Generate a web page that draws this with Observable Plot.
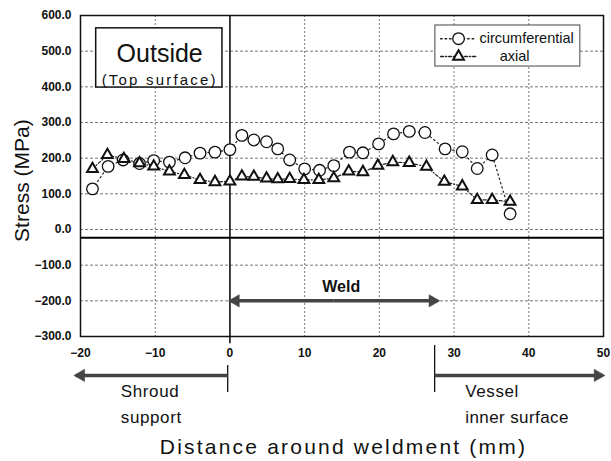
<!DOCTYPE html>
<html>
<head>
<meta charset="utf-8">
<script src="https://cdn.jsdelivr.net/npm/d3@7"></script>
<script src="https://cdn.jsdelivr.net/npm/@observablehq/plot@0.6"></script>
<style>
  html, body { margin: 0; padding: 0; background: #fff; }
  #chart svg { display: block; }
</style>
</head>
<body>
<div id="chart"></div>
<script>
// Distance around weldment (mm) for each measurement point
const xCirc = [-18.4,-16.3,-14.3,-12.1,-10.2,-8.1,-6.0,-4.0,-2.0,0.0,1.6,3.2,4.9,6.4,8.0,10.0,12.0,13.9,16.0,17.8,19.9,21.9,24.0,26.1,28.8,31.1,33.1,35.1,37.5];
const circumferential = [114,177,195,185,193,189,201,214,217,224,264,251,246,226,195,170,166,179,217,215,240,268,275,272,226,218,171,209,44];
const xAxial = [-18.4,-16.4,-14.2,-12.1,-10.2,-8.1,-6.1,-4.0,-2.0,0.0,1.6,3.2,4.9,6.4,8.0,9.9,11.9,13.9,15.9,17.8,19.8,21.8,24.0,26.3,28.7,31.1,33.1,35.1,37.5];
const axial = [170,209,198,186,177,163,153,139,133,135,149,148,143,141,142,139,139,144,163,161,179,189,187,176,134,121,83,83,78];

const xTicks = [-20,-10,0,10,20,30,40,50];
const yTicks = [-300,-200,-100,0,100,200,300,400,500,600];
const seriesNames = ["circumferential", "axial"];

const circData = xCirc.map((x, i) => ({x, y: circumferential[i]}));
const axialData = xAxial.map((x, i) => ({x, y: axial[i]}));

const fmtY = d => (d < 0 ? "\u2212" : "") + Math.abs(d).toFixed(1);
const fmtX = d => (d < 0 ? "\u2212" + (-d) : String(d));
const sans = "'Liberation Sans', Arial, sans-serif";

// annotation arrows: shaft from x1 to x2 at level y, filled head at x2
const arrows = [
  {x1: 13.9, x2: 0.1, y: -200},
  {x1: 13.9, x2: 27.8, y: -200},
  {x1: -0.3, x2: -20.6, y: -409},
  {x1: 27.4, x2: 49.9, y: -409}
];
const headOptions = {
  x: "x2", y: "y", r: 4.6, symbol: "triangle", fill: "#444", stroke: "#444", strokeWidth: 0.5,
  rotate: d => (d.x2 > d.x1 ? 90 : -90)
};

const chart = Plot.plot({
  width: 611,
  height: 461,
  marginLeft: 80,
  marginRight: 8,
  marginTop: 15,
  marginBottom: 125,
  style: {fontFamily: sans, fontSize: "12px", color: "#111", background: "#fff"},
  x: {domain: [-20, 50]},
  y: {domain: [-300, 600]},
  marks: [
    Plot.gridY(yTicks.filter(d => d > -300 && d < 600), {stroke: "#777", strokeOpacity: 1, strokeDasharray: "3,2"}),
    Plot.gridX(xTicks.filter(d => d !== 0 && d > -20 && d < 50), {stroke: "#777", strokeOpacity: 1, strokeDasharray: "2,2"}),
    Plot.ruleY([-23], {stroke: "#000", strokeWidth: 2}),
    Plot.ruleX([0], {y1: 600, y2: -320, stroke: "#000", strokeWidth: 1.5}),
    Plot.frame({stroke: "#111", strokeWidth: 1.5}),
    Plot.axisY({ticks: yTicks, tickFormat: fmtY, tickSize: 0, tickPadding: 9, label: null, fill: "#111", fontSize: 12, fontWeight: "bold"}),
    Plot.axisX({ticks: xTicks, tickFormat: fmtX, tickSize: 0, tickPadding: 12, label: null, fill: "#111", fontSize: 12, fontWeight: "bold"}),
    // "Outside" box
    Plot.rect([0], {x1: -17.9, x2: -1.0, y1: 398, y2: 564, fill: "white", stroke: "#111", strokeWidth: 1.5}),
    Plot.text(["Outside"], {x: -9.4, y: 493, fontSize: 25, fill: "#111"}),
    Plot.text(["(Top surface)"], {x: -9.4, y: 418, fontSize: 15, fill: "#111"}),
    // data lines
    Plot.line(circData, {x: "x", y: "y", stroke: "#222", strokeWidth: 1.2, strokeDasharray: "1.5,3"}),
    Plot.line(axialData, {x: "x", y: "y", stroke: "#222", strokeWidth: 1.2, strokeDasharray: "3,2,1,2"}),
    Plot.dot(circData, {x: "x", y: "y", r: 5.8, symbol: "circle", fill: "white", stroke: "#111", strokeWidth: 1.3}),
    Plot.dot(axialData, {x: "x", y: "y", r: 4, symbol: "triangle", fill: "white", stroke: "#111", strokeWidth: 2}),
    // legend
    Plot.rect([0], {x1: 27.5, x2: 46.9, y1: 457, y2: 572, fill: "white", stroke: "#444", strokeWidth: 1}),
    Plot.line([{x: 28.2, y: 535}, {x: 32.9, y: 535}], {x: "x", y: "y", stroke: "#222", strokeDasharray: "1.5,3"}),
    Plot.line([{x: 28.2, y: 485}, {x: 32.9, y: 485}], {x: "x", y: "y", stroke: "#222", strokeDasharray: "3,2,1,2"}),
    Plot.dot([{x: 30.6, y: 535}], {x: "x", y: "y", r: 5.8, symbol: "circle", fill: "white", stroke: "#111", strokeWidth: 1.3}),
    Plot.dot([{x: 30.6, y: 485}], {x: "x", y: "y", r: 4, symbol: "triangle", fill: "white", stroke: "#111", strokeWidth: 2}),
    Plot.text([seriesNames[0]], {x: 33.4, y: 535, textAnchor: "start", fontSize: 14.5, fill: "#111"}),
    Plot.text([seriesNames[1]], {x: 36.1, y: 485, textAnchor: "start", fontSize: 14.5, fill: "#111"}),
    // Weld annotation
    Plot.text(["Weld"], {x: 14.9, y: -160, fontSize: 16, fontWeight: "bold", fill: "#111"}),
    // Shroud / Vessel brackets
    Plot.ruleX([-0.3], {y1: -381, y2: -457, stroke: "#111", strokeWidth: 1.3}),
    Plot.ruleX([27.4], {y1: -325, y2: -457, stroke: "#111", strokeWidth: 1.3}),
    // arrow shafts and filled heads
    Plot.link(arrows, {x1: "x1", x2: "x2", y1: "y", y2: "y", stroke: "#444", strokeWidth: 3.5}),
    Plot.dot(arrows.filter(d => d.x2 > d.x1), {...headOptions, dx: -5}),
    Plot.dot(arrows.filter(d => d.x2 < d.x1), {...headOptions, dx: 5}),
    Plot.text(["Shroud"], {x: -14.6, y: -454, textAnchor: "start", fontSize: 17, fill: "#111"}),
    Plot.text(["support"], {x: -14.6, y: -527, textAnchor: "start", fontSize: 17, fill: "#111"}),
    Plot.text(["Vessel"], {x: 31.5, y: -454, textAnchor: "start", fontSize: 17, fill: "#111"}),
    Plot.text(["inner surface"], {x: 31.5, y: -527, textAnchor: "start", fontSize: 17, fill: "#111"}),
    // axis titles
    Plot.text(["Distance around weldment (mm)"], {x: 15.2, y: -611, fontSize: 21, fill: "#111"}),
    Plot.text(["Stress (MPa)"], {x: -27.8, y: 137, rotate: -90, fontSize: 21, fill: "#111"})
  ]
});

// wide letter spacing of the original's Gothic lettering
const spacing = {
  "Distance around weldment (mm)": "2.2px",
  "(Top surface)": "2.2px",
  "Shroud": "0.6px",
  "support": "0.6px",
  "Vessel": "0.6px",
  "inner surface": "0.4px"
};
d3.select(chart).selectAll("text").each(function () {
  const s = spacing[this.textContent];
  if (s) this.style.letterSpacing = s;
});
document.getElementById("chart").appendChild(chart);
</script>
</body>
</html>
